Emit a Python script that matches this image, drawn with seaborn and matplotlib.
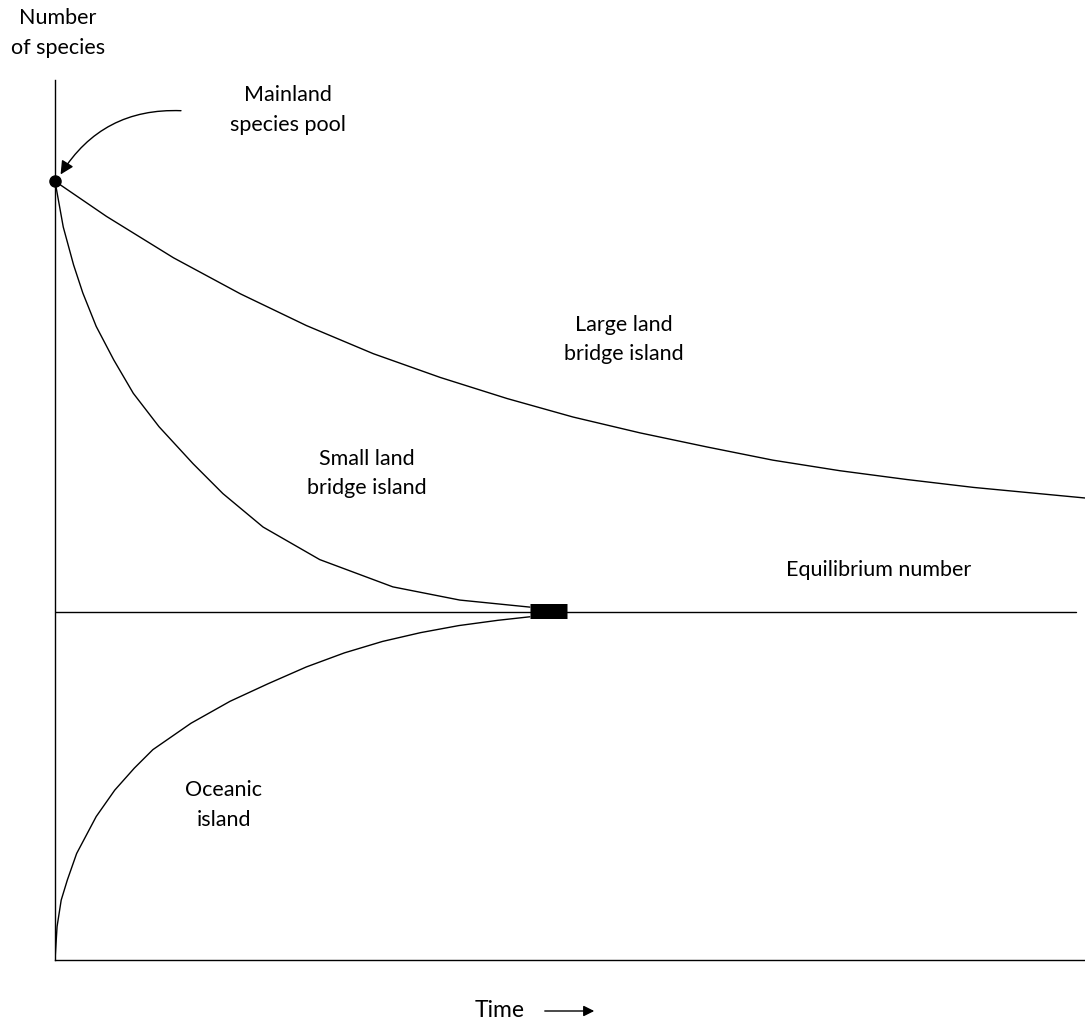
import matplotlib
matplotlib.use("Agg")
import matplotlib.pyplot as plt
import pandas as pd
import seaborn as sns

# curves (time 0-10, number of species 0-100)
large_x = [0.0, 0.50, 1.15, 1.80, 2.44, 3.09, 3.74, 4.39, 5.03, 5.68,
           6.33, 6.97, 7.62, 8.27, 8.92, 10.0]
large_y = [88.5, 84.5, 79.8, 75.7, 72.1, 68.9, 66.2, 63.8, 61.7, 59.9,
           58.3, 56.8, 55.6, 54.6, 53.7, 52.5]

small_x = [0.0, 0.08, 0.18, 0.27, 0.40, 0.57, 0.76, 1.01, 1.34, 1.63,
           2.02, 2.57, 3.28, 3.93, 4.61]
small_y = [88.5, 83.3, 79.0, 75.8, 72.0, 68.2, 64.4, 60.6, 56.4, 53.0,
           49.2, 45.5, 42.4, 40.9, 40.1]

oceanic_x = [0.0, 0.02, 0.06, 0.12, 0.21, 0.40, 0.58, 0.77, 0.95, 1.32,
             1.70, 2.07, 2.44, 2.81, 3.18, 3.55, 3.92, 4.30, 4.61]
oceanic_y = [0.0, 3.8, 6.8, 9.1, 12.1, 16.3, 19.3, 21.8, 23.9, 26.9,
             29.4, 31.4, 33.3, 34.9, 36.2, 37.2, 38.0, 38.6, 39.0]

equilibrium_x = [0.0, 9.91]
equilibrium_y = [39.6, 39.6]

plateau_x = [4.61, 4.97]
plateau_y = [39.7, 39.7]

pool_x = [0.0]
pool_y = [88.5]

sns.set_style("white")
plt.rcParams['font.family'] = ['Lato', 'DejaVu Sans']
plt.rcParams['text.color'] = 'black'

fig = plt.figure(figsize=(10.85, 10.22), dpi=100)
ax = fig.add_axes([0.0507, 0.0607, 0.9493, 0.861])

for xs, ys in [(large_x, large_y), (small_x, small_y),
               (oceanic_x, oceanic_y), (equilibrium_x, equilibrium_y)]:
    df = pd.DataFrame({"t": xs, "n": ys})
    sns.lineplot(data=df, x="t", y="n", ax=ax, color="black", lw=1.0,
                 sort=False, estimator=None)

# the short thick bar where the curves meet equilibrium
ax.plot(plateau_x, plateau_y, color="black", lw=10.8, solid_capstyle="butt")
ax.plot(pool_x, pool_y, "o", color="black", ms=8, clip_on=False, zorder=5)

ax.set_xlim(0, 10)
ax.set_ylim(0, 100)
ax.set_xticks([])
ax.set_yticks([])
ax.set_xlabel("")
ax.set_ylabel("")
sns.despine(ax=ax)
for s in ["left", "bottom"]:
    ax.spines[s].set_color("black")
    ax.spines[s].set_linewidth(1.0)

fs = 15.5
ls = 1.6
ax.annotate("", xy=(pool_x[0] + 0.04, pool_y[0] + 0.5), xytext=(1.25, 96.5),
            arrowprops=dict(arrowstyle="-|>", color="black", lw=1.0,
                            mutation_scale=20,
                            connectionstyle="arc3,rad=0.3"))

ax.text(2.26, 96.6, "Mainland\nspecies pool", ha="center", va="center",
        fontsize=fs, linespacing=ls)
ax.text(5.52, 70.5, "Large land\nbridge island", ha="center", va="center",
        fontsize=fs, linespacing=ls)
ax.text(3.03, 55.3, "Small land\nbridge island", ha="center", va="center",
        fontsize=fs, linespacing=ls)
ax.text(8.0, 44.3, "Equilibrium number", ha="center", va="center",
        fontsize=fs)
ax.text(1.64, 17.6, "Oceanic\nisland", ha="center", va="center",
        fontsize=fs, linespacing=ls)

fig.text(58 / 1085, 1 - 33 / 1022, "Number\nof species", ha="center",
         va="center", fontsize=fs, linespacing=ls)
fig.text(500 / 1085, 1 - 1010 / 1022, "Time", ha="center", va="center",
         fontsize=fs + 1)
fig.add_artist(matplotlib.patches.FancyArrowPatch(
    (542 / 1085, 1 - 1011 / 1022), (597 / 1085, 1 - 1011 / 1022),
    transform=fig.transFigure, arrowstyle="-|>", mutation_scale=16,
    color="black", lw=1.0))

fig.savefig("out.png", dpi=100, facecolor="white")
